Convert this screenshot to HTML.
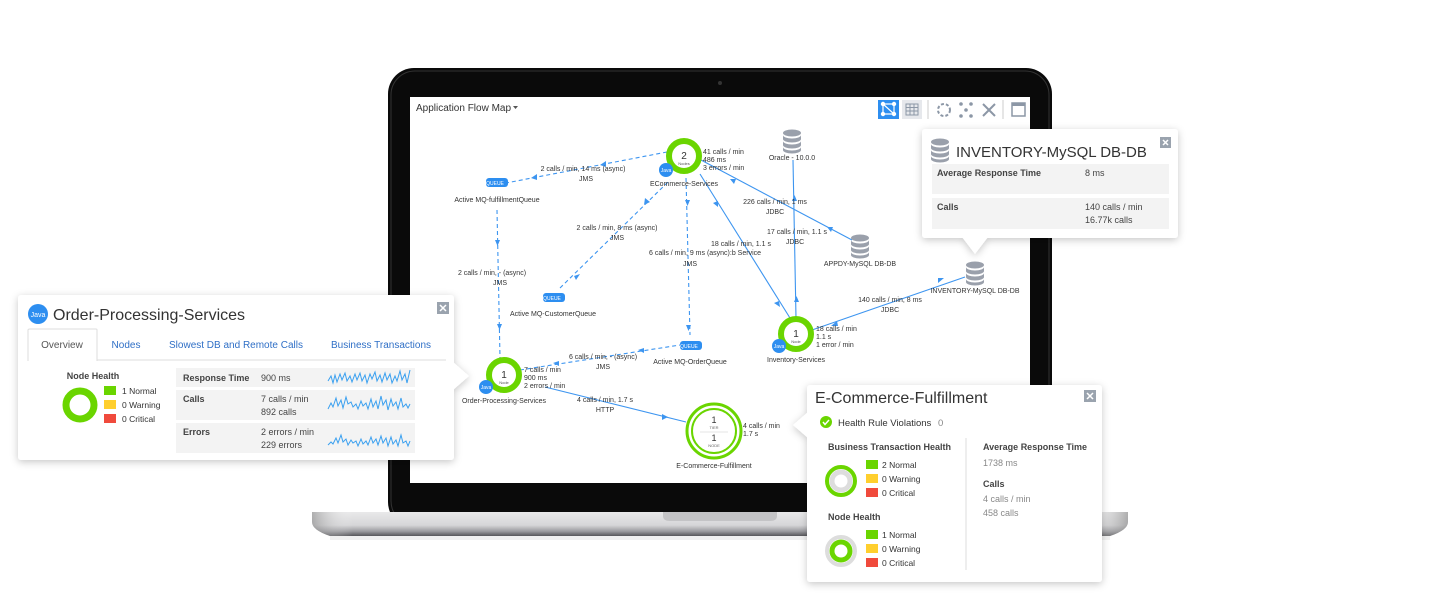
<!DOCTYPE html>
<html><head><meta charset="utf-8"><style>
html,body{margin:0;padding:0;background:#fff;}
svg{display:block;}
text{font-family:"Liberation Sans",sans-serif;}
</style></head><body>
<svg width="1440" height="614" viewBox="0 0 1440 614" xmlns="http://www.w3.org/2000/svg">
<defs>
<linearGradient id="base" x1="0" y1="0" x2="0" y2="1">
<stop offset="0" stop-color="#e9e9ea"/><stop offset="0.55" stop-color="#d6d6d8"/><stop offset="0.8" stop-color="#9c9ca0"/><stop offset="1" stop-color="#56565a"/>
</linearGradient>
<linearGradient id="baseh" x1="0" y1="0" x2="1" y2="0">
<stop offset="0" stop-color="#888" stop-opacity="0.6"/><stop offset="0.05" stop-color="#fff" stop-opacity="0"/><stop offset="0.95" stop-color="#fff" stop-opacity="0"/><stop offset="1" stop-color="#888" stop-opacity="0.6"/>
</linearGradient>
<filter id="sh" x="-10%" y="-10%" width="120%" height="130%"><feDropShadow dx="0" dy="2" stdDeviation="4" flood-color="#000" flood-opacity="0.22"/></filter>
<g id="db"><ellipse cx="0" cy="-7" rx="9" ry="3.5" fill="#9aa0ab"/><path d="M-9,-5 a9,3.5 0 0 0 18,0 v4 a9,3.5 0 0 1 -18,0z" fill="#9aa0ab"/><path d="M-9,1 a9,3.5 0 0 0 18,0 v4 a9,3.5 0 0 1 -18,0z" fill="#9aa0ab"/><path d="M-9,7 a9,3.5 0 0 0 18,0 v3 a9,3.5 0 0 1 -18,0z" fill="#9aa0ab"/></g>
</defs>

<!-- laptop -->
<rect x="388" y="68" width="664" height="460" rx="26" fill="#0a0a0a"/>
<rect x="391" y="71" width="658" height="454" rx="24" fill="none" stroke="#333" stroke-width="1"/>
<circle cx="720" cy="83" r="2" fill="#333"/>
<rect x="410" y="97" width="620" height="386" fill="#fff"/>
<path d="M312,512 H1128 V522 Q1128,530 1110,536 H330 Q312,530 312,522z" fill="url(#base)"/>
<path d="M312,512 H1128 V522 Q1128,530 1110,536 H330 Q312,530 312,522z" fill="url(#baseh)"/>
<path d="M663,512 H777 V516 Q777,521 770,521 H670 Q663,521 663,516z" fill="#c4c4c6"/>
<rect x="330" y="536" width="780" height="4" fill="#000" opacity="0.06"/>

<!-- toolbar -->
<text x="416" y="111" font-size="10" fill="#333">Application Flow Map</text>
<path d="M513,106 l5,0 l-2.5,3z" fill="#555"/>
<rect x="878" y="100" width="21" height="19" fill="#2d8ef0"/>
<g stroke="#fff" stroke-width="1.2" fill="#fff"><path d="M883,104 L894,104 L894,114 L883,114z M883,104 L894,114" fill="none"/><circle cx="883" cy="104" r="1.6"/><circle cx="894" cy="104" r="1.6"/><circle cx="883" cy="114" r="1.6"/><circle cx="894" cy="114" r="1.6"/></g>
<rect x="902" y="100" width="20" height="19" fill="#e6e8ec"/>
<g stroke="#8c97a6" stroke-width="1" fill="none"><rect x="906" y="104" width="12" height="11"/><path d="M906,107.5h12M906,111h12M910,104v11M914,104v11"/></g>
<path d="M928,100v19" stroke="#ccc"/>
<circle cx="944" cy="110" r="6" fill="none" stroke="#8c97a6" stroke-width="2" stroke-dasharray="3 2"/>
<g fill="#8c97a6"><circle cx="961" cy="104" r="1.8"/><circle cx="971" cy="104" r="1.8"/><circle cx="966" cy="110" r="1.8"/><circle cx="961" cy="116" r="1.8"/><circle cx="971" cy="116" r="1.8"/></g>
<path d="M983,104l12,12M995,104l-12,12" stroke="#8c97a6" stroke-width="2"/>
<path d="M1003,100v19" stroke="#ccc"/>
<rect x="1012" y="103" width="13" height="13" fill="none" stroke="#8c97a6" stroke-width="1.5"/><rect x="1012" y="103" width="13" height="3" fill="#8c97a6"/>

<!-- edges -->
<g stroke="#3d95f0" stroke-width="1.1" fill="none">
<g stroke-dasharray="4 3">
<path d="M667,152 L506,183"/>
<path d="M497,210 L500,358"/>
<path d="M560,288 L670,180"/>
<path d="M686,178 L690,335"/>
<path d="M520,370 L680,345"/>
</g>
<path d="M700,174 L790,318"/>
<path d="M701,160 L852,240"/>
<path d="M796,318 L793,160"/>
<path d="M812,330 L965,277"/>
<path d="M545,387 L686,422"/>
</g>
<g fill="#3d95f0">
<path d="M531,178 l6,-4 l0,6z"/><path d="M600,165 l6,-4 l0,6z"/>
<path d="M495,240 l5,0 l-2.5,6z"/><path d="M497,324 l5,0 l-2.5,6z"/>
<path d="M574,276 l6,-2 l-4,6z"/><path d="M645,198 l-1,7 l6,-3z"/>
<path d="M685,200 l5,0 l-2.5,6z"/><path d="M686,325 l5,0 l-2.5,6z"/>
<path d="M644,348 l-6,2 l6,3z"/><path d="M559,361 l-6,2 l6,3z"/>
<path d="M713,203 l5,-2 l0,6z"/><path d="M774,303 l5,-2 l1,6z"/>
<path d="M730,179 l6,0 l-2,5z"/><path d="M827,227 l6,0 l-2,5z"/>
<path d="M792,201 l5,0 l-2.5,-6z"/><path d="M794,302 l5,0 l-2.5,-6z"/>
<path d="M831,326 l6,-5 l1,5z"/><path d="M938,283 l6,-5 l-6,0z"/>
<path d="M662,414 l6,3 l-6,3z"/>
</g>

<!-- edge labels -->
<g font-size="7" fill="#333" text-anchor="middle">
<text x="583" y="171">2 calls / min, 14 ms (async)</text><text x="586" y="181">JMS</text>
<text x="492" y="275">2 calls / min, - (async)</text><text x="500" y="285">JMS</text>
<text x="617" y="230">2 calls / min, 8 ms (async)</text><text x="617" y="240">JMS</text>
<text x="705" y="255">6 calls / min, 9 ms (async):b Service</text><text x="690" y="266">JMS</text>
<text x="741" y="246">18 calls / min, 1.1 s</text>
<text x="775" y="204">226 calls / min, 1 ms</text><text x="775" y="214">JDBC</text>
<text x="797" y="234">17 calls / min, 1.1 s</text><text x="795" y="244">JDBC</text>
<text x="890" y="302">140 calls / min, 8 ms</text><text x="890" y="312">JDBC</text>
<text x="603" y="359">6 calls / min, - (async)</text><text x="603" y="369">JMS</text>
<text x="605" y="402">4 calls / min, 1.7 s</text><text x="605" y="412">HTTP</text>
</g>
<g font-size="7" fill="#333">
<text x="703" y="154">41 calls / min</text><text x="703" y="162">486 ms</text><text x="703" y="170">3 errors / min</text>
<text x="816" y="331">18 calls / min</text><text x="816" y="339">1.1 s</text><text x="816" y="347">1 error / min</text>
<text x="524" y="372">7 calls / min</text><text x="524" y="380">900 ms</text><text x="524" y="388">2 errors / min</text>
<text x="743" y="428">4 calls / min</text><text x="743" y="436">1.7 s</text>
</g>

<!-- nodes -->
<g>
<circle cx="684" cy="156" r="15" fill="#fff" stroke="#6ad500" stroke-width="6"/>
<text x="684" y="159" font-size="10" text-anchor="middle" fill="#333">2</text><text x="684" y="165" font-size="4" text-anchor="middle" fill="#555">Nodes</text>
<circle cx="666" cy="170" r="7" fill="#2d8ef0"/><text x="666" y="172" font-size="5" fill="#fff" text-anchor="middle">Java</text>
<text x="684" y="186" font-size="7" text-anchor="middle" fill="#333">ECommerce-Services</text>

<circle cx="796" cy="334" r="15" fill="#fff" stroke="#6ad500" stroke-width="6"/>
<text x="796" y="337" font-size="10" text-anchor="middle" fill="#333">1</text><text x="796" y="343" font-size="4" text-anchor="middle" fill="#555">Node</text>
<circle cx="779" cy="346" r="7" fill="#2d8ef0"/><text x="779" y="348" font-size="5" fill="#fff" text-anchor="middle">Java</text>
<text x="796" y="362" font-size="7" text-anchor="middle" fill="#333">Inventory-Services</text>

<circle cx="504" cy="375" r="15" fill="#fff" stroke="#6ad500" stroke-width="6"/>
<text x="504" y="378" font-size="10" text-anchor="middle" fill="#333">1</text><text x="504" y="384" font-size="4" text-anchor="middle" fill="#555">Node</text>
<circle cx="486" cy="387" r="7" fill="#2d8ef0"/><text x="486" y="389" font-size="5" fill="#fff" text-anchor="middle">Java</text>
<text x="504" y="403" font-size="7" text-anchor="middle" fill="#333">Order-Processing-Services</text>

<circle cx="714" cy="431" r="27" fill="#fff" stroke="#6ad500" stroke-width="3"/>
<circle cx="714" cy="431" r="22" fill="#fff" stroke="#6ad500" stroke-width="2"/>
<text x="714" y="423" font-size="9" text-anchor="middle" fill="#333">1</text><text x="714" y="429" font-size="4" text-anchor="middle" fill="#666">TIER</text>
<path d="M700,432h28" stroke="#ccc" stroke-width="0.6"/>
<text x="714" y="441" font-size="9" text-anchor="middle" fill="#333">1</text><text x="714" y="447" font-size="4" text-anchor="middle" fill="#666">NODE</text>
<text x="714" y="468" font-size="7" text-anchor="middle" fill="#333">E-Commerce-Fulfillment</text>

<use href="#db" x="792" y="140"/><text x="792" y="160" font-size="7" text-anchor="middle" fill="#333">Oracle - 10.0.0</text>
<use href="#db" x="860" y="245"/><text x="860" y="266" font-size="7" text-anchor="middle" fill="#333">APPDY-MySQL DB-DB</text>
<use href="#db" x="975" y="272"/><text x="975" y="293" font-size="7" text-anchor="middle" fill="#333">INVENTORY-MySQL DB-DB</text>

<rect x="486" y="178" width="22" height="9" rx="3" fill="#2d8ef0"/><text x="495" y="185" font-size="5" fill="#fff" text-anchor="middle">QUEUE</text>
<text x="497" y="202" font-size="7" text-anchor="middle" fill="#333">Active MQ-fulfillmentQueue</text>
<rect x="543" y="293" width="22" height="9" rx="3" fill="#2d8ef0"/><text x="552" y="300" font-size="5" fill="#fff" text-anchor="middle">QUEUE</text>
<text x="553" y="316" font-size="7" text-anchor="middle" fill="#333">Active MQ-CustomerQueue</text>
<rect x="680" y="341" width="22" height="9" rx="3" fill="#2d8ef0"/><text x="689" y="348" font-size="5" fill="#fff" text-anchor="middle">QUEUE</text>
<text x="690" y="364" font-size="7" text-anchor="middle" fill="#333">Active MQ-OrderQueue</text>
</g>

<!-- top-right panel -->
<g filter="url(#sh)"><rect x="922" y="129" width="256" height="109" rx="3" fill="#fff"/><path d="M962,237 L988,237 L975,254z" fill="#fff"/></g>
<use href="#db" x="940" y="149"/>
<text x="956" y="157" font-size="15" fill="#333">INVENTORY-MySQL DB-DB</text>
<rect x="1160" y="137" width="11" height="11" fill="#9aa3ae"/><path d="M1163,140l5,5M1168,140l-5,5" stroke="#fff" stroke-width="1.5"/>
<rect x="932" y="164" width="237" height="30" fill="#f3f3f3"/>
<rect x="932" y="198" width="237" height="31" fill="#f3f3f3"/>
<text x="937" y="176" font-size="9" font-weight="bold" fill="#444">Average Response Time</text>
<text x="1085" y="176" font-size="9" fill="#444">8 ms</text>
<text x="937" y="210" font-size="9" font-weight="bold" fill="#444">Calls</text>
<text x="1085" y="210" font-size="9" fill="#444">140 calls / min</text>
<text x="1085" y="223" font-size="9" fill="#444">16.77k calls</text>

<!-- left panel -->
<g filter="url(#sh)"><rect x="18" y="295" width="436" height="165" rx="3" fill="#fff"/><path d="M453,362 L469,376 L453,390z" fill="#fff"/></g>
<circle cx="38" cy="314" r="10" fill="#2d8ef0"/><text x="38" y="317" font-size="7" fill="#fff" text-anchor="middle">Java</text>
<text x="53" y="320" font-size="16" fill="#333">Order-Processing-Services</text>
<rect x="437" y="302" width="12" height="12" fill="#9aa3ae"/><path d="M440,305l6,6M446,305l-6,6" stroke="#fff" stroke-width="1.5"/>
<path d="M28,360 H446" stroke="#ddd"/>
<path d="M28,361 V330 Q28,329 30,329 H96 Q97,329 97,330 V361" fill="#fff" stroke="#ddd"/>
<text x="62" y="348" font-size="10" fill="#555" text-anchor="middle">Overview</text>
<text x="126" y="348" font-size="10" fill="#2f6fc6" text-anchor="middle">Nodes</text>
<text x="236" y="348" font-size="10" fill="#2f6fc6" text-anchor="middle">Slowest DB and Remote Calls</text>
<text x="381" y="348" font-size="10" fill="#2f6fc6" text-anchor="middle">Business Transactions</text>
<text x="93" y="379" font-size="9" font-weight="bold" fill="#444" text-anchor="middle">Node Health</text>
<circle cx="80" cy="405" r="14" fill="none" stroke="#6ad500" stroke-width="7"/>
<rect x="104" y="386" width="12" height="9" fill="#6ad500"/><text x="122" y="394" font-size="8.5" fill="#333">1 Normal</text>
<rect x="104" y="400" width="12" height="9" fill="#ffcf2e"/><text x="122" y="408" font-size="8.5" fill="#333">0 Warning</text>
<rect x="104" y="414" width="12" height="9" fill="#f04a3c"/><text x="122" y="422" font-size="8.5" fill="#333">0 Critical</text>
<rect x="176" y="368" width="239" height="19" fill="#f3f3f3"/>
<rect x="176" y="390" width="239" height="30" fill="#f3f3f3"/>
<rect x="176" y="423" width="239" height="30" fill="#f3f3f3"/>
<g font-size="9" fill="#444">
<text x="183" y="381" font-weight="bold">Response Time</text><text x="261" y="381">900 ms</text>
<text x="183" y="402" font-weight="bold">Calls</text><text x="261" y="402">7 calls / min</text><text x="261" y="415">892 calls</text>
<text x="183" y="435" font-weight="bold">Errors</text><text x="261" y="435">2 errors / min</text><text x="261" y="448">229 errors</text>
</g>
<g fill="none" stroke="#3aa0f0" stroke-width="1">
<polyline points="328,381 331,376 333,383 335,375 337,382 340,374 342,380 345,373 347,381 350,376 352,382 355,374 357,380 360,373 362,381 365,375 367,383 370,374 372,379 375,372 377,381 380,375 382,382 385,373 387,380 390,374 392,383 395,376 397,381 400,371 402,380 405,374 407,383 410,370"/>
<polyline points="328,409 331,403 333,407 336,398 338,406 341,400 343,408 346,397 348,404 351,402 353,407 356,404 358,409 361,401 363,406 366,403 368,409 371,399 373,407 376,401 378,409 381,396 383,405 386,400 388,410 391,399 393,406 396,402 398,409 401,398 403,407 406,404 408,408 410,404"/>
<polyline points="328,445 331,442 333,444 336,438 338,443 341,435 343,442 346,439 348,445 351,440 353,443 356,441 358,446 361,439 363,444 366,441 368,445 371,437 373,443 376,439 378,445 381,436 383,443 386,438 388,446 391,437 393,444 396,440 398,446 401,435 403,443 406,441 408,446 410,441"/>
</g>

<!-- bottom-right panel -->
<g filter="url(#sh)"><rect x="807" y="385" width="295" height="197" rx="3" fill="#fff"/><path d="M808,412 L793,425 L808,438z" fill="#fff"/></g>
<text x="815" y="403" font-size="16" fill="#333">E-Commerce-Fulfillment</text>
<rect x="1084" y="390" width="12" height="12" fill="#9aa3ae"/><path d="M1087,393l6,6M1093,393l-6,6" stroke="#fff" stroke-width="1.5"/>
<circle cx="826" cy="422" r="6" fill="#6ad500"/><path d="M823,422l2,2.5l4,-4.5" stroke="#fff" stroke-width="1.5" fill="none"/>
<text x="838" y="426" font-size="9.5" fill="#333">Health Rule Violations</text><text x="938" y="426" font-size="9.5" fill="#888">0</text>
<text x="828" y="450" font-size="9" font-weight="bold" fill="#444">Business Transaction Health</text>
<circle cx="841" cy="481" r="14" fill="none" stroke="#6ad500" stroke-width="4"/><circle cx="841" cy="481" r="9" fill="none" stroke="#ddd" stroke-width="5"/>
<rect x="866" y="460" width="12" height="9" fill="#6ad500"/><text x="882" y="468" font-size="8.5" fill="#333">2 Normal</text>
<rect x="866" y="474" width="12" height="9" fill="#ffcf2e"/><text x="882" y="482" font-size="8.5" fill="#333">0 Warning</text>
<rect x="866" y="488" width="12" height="9" fill="#f04a3c"/><text x="882" y="496" font-size="8.5" fill="#333">0 Critical</text>
<text x="828" y="520" font-size="9" font-weight="bold" fill="#444">Node Health</text>
<circle cx="841" cy="551" r="14" fill="none" stroke="#ddd" stroke-width="4"/><circle cx="841" cy="551" r="9" fill="none" stroke="#6ad500" stroke-width="5"/>
<rect x="866" y="530" width="12" height="9" fill="#6ad500"/><text x="882" y="538" font-size="8.5" fill="#333">1 Normal</text>
<rect x="866" y="544" width="12" height="9" fill="#ffcf2e"/><text x="882" y="552" font-size="8.5" fill="#333">0 Warning</text>
<rect x="866" y="558" width="12" height="9" fill="#f04a3c"/><text x="882" y="566" font-size="8.5" fill="#333">0 Critical</text>
<path d="M966,438 V570" stroke="#ddd"/>
<text x="983" y="450" font-size="9" font-weight="bold" fill="#444">Average Response Time</text>
<text x="983" y="466" font-size="9" fill="#888">1738 ms</text>
<text x="983" y="487" font-size="9" font-weight="bold" fill="#444">Calls</text>
<text x="983" y="502" font-size="9" fill="#888">4 calls / min</text>
<text x="983" y="516" font-size="9" fill="#888">458 calls</text>
</svg>
</body></html>
